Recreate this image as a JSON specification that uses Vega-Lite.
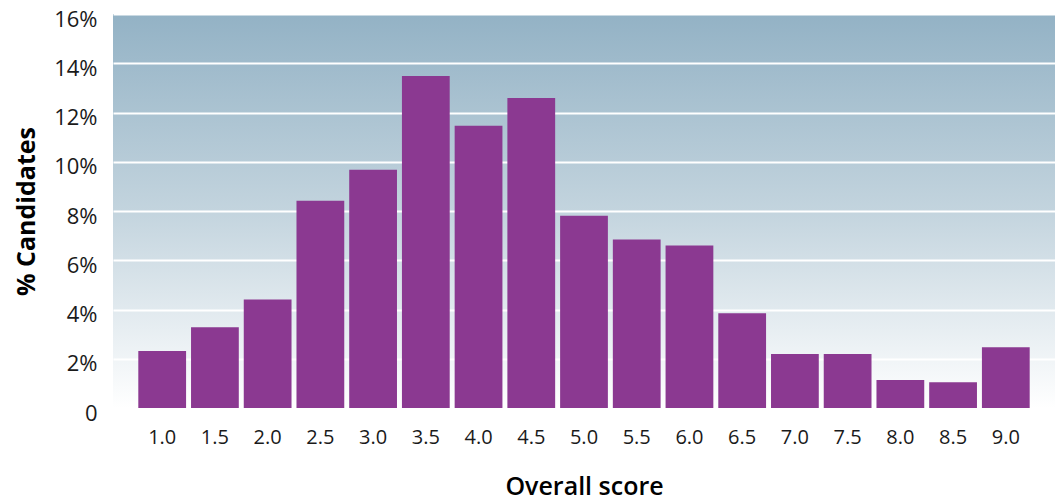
{
  "$schema": "https://vega.github.io/schema/vega-lite/v6.json",
  "autosize": "none",
  "width": 942,
  "height": 394,
  "padding": {"left": 113, "top": 14, "right": 4, "bottom": 96},
  "background": "white",
  "config": {
    "font": "Open Sans",
    "view": {
      "stroke": null,
      "fill": {
        "gradient": "linear",
        "x1": 0, "y1": 0, "x2": 0, "y2": 1,
        "stops": [
          {"offset": 0, "color": "#93b2c5"},
          {"offset": 0.5, "color": "#c3d4de"},
          {"offset": 1, "color": "#ffffff"}
        ]
      }
    },
    "axis": {
      "domain": false,
      "ticks": false,
      "labelColor": "#1a1a1a",
      "titleColor": "#000000",
      "labelFont": "Open Sans",
      "titleFont": "Open Sans"
    }
  },
  "data": {
    "values": [
      {"score": "1.0", "pct": 2.31},
      {"score": "1.5", "pct": 3.28},
      {"score": "2.0", "pct": 4.41},
      {"score": "2.5", "pct": 8.42},
      {"score": "3.0", "pct": 9.68},
      {"score": "3.5", "pct": 13.48},
      {"score": "4.0", "pct": 11.46},
      {"score": "4.5", "pct": 12.59},
      {"score": "5.0", "pct": 7.81},
      {"score": "5.5", "pct": 6.84},
      {"score": "6.0", "pct": 6.6},
      {"score": "6.5", "pct": 3.85},
      {"score": "7.0", "pct": 2.19},
      {"score": "7.5", "pct": 2.19},
      {"score": "8.0", "pct": 1.14},
      {"score": "8.5", "pct": 1.05},
      {"score": "9.0", "pct": 2.47}
    ]
  },
  "mark": {"type": "bar", "color": "#8b3991"},
  "encoding": {
    "x": {
      "field": "score",
      "type": "nominal",
      "sort": null,
      "scale": {"paddingInner": 0.094, "paddingOuter": 0.48},
      "axis": {
        "title": "Overall score",
        "labelAngle": 0,
        "labelFontSize": 20,
        "labelPadding": 19,
        "titleFontSize": 25,
        "titleFontWeight": 600,
        "titlePadding": 27,
        "grid": false
      }
    },
    "y": {
      "field": "pct",
      "type": "quantitative",
      "scale": {"domain": [0, 16], "nice": false},
      "axis": {
        "title": "% Candidates",
        "values": [0, 2, 4, 6, 8, 10, 12, 14, 16],
        "labelExpr": "datum.value == 0 ? '0' : datum.value + '%'",
        "labelFontSize": 22,
        "labelPadding": 16,
        "labelOffset": 5,
        "labelBound": false,
        "labelFlush": false,
        "titleFontSize": 25,
        "titleFontWeight": "bold",
        "titlePadding": 14,
        "grid": true,
        "gridColor": "#ffffff",
        "gridWidth": 2,
        "gridOpacity": 1
      }
    }
  }
}
